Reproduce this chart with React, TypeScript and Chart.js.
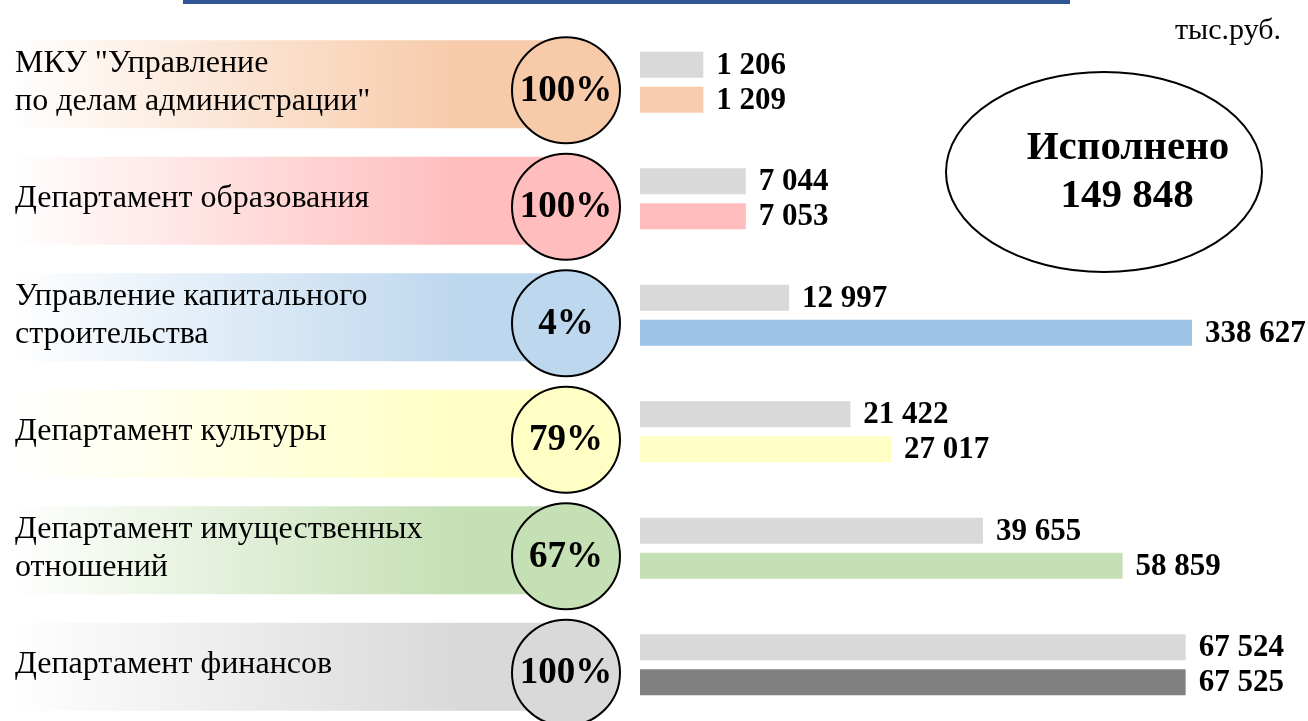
import { useEffect, useRef } from 'react';
import { Chart, registerables } from 'chart.js';

Chart.register(...registerables);

// ---------- data ----------
const categories: string[][] = [
  ['МКУ "Управление', 'по делам администрации"'],
  ['Департамент образования'],
  ['Управление капитального', 'строительства'],
  ['Департамент культуры'],
  ['Департамент имущественных', 'отношений'],
  ['Департамент финансов'],
];
const executed = [1206, 7044, 12997, 21422, 39655, 67524];
const planned = [1209, 7053, 338627, 27017, 58859, 67525];
const executedLabel = 'Исполнено';
const plannedLabel = 'План';
const unitLabel = 'тыс.руб.';
const totalTitle = 'Исполнено';

// ---------- styles ----------
const executedColor = '#d9d9d9';
const planColors = ['#f8cbad', '#ffbcbc', '#9dc3e6', '#ffffc5', '#c5e0b4', '#808080'];
const bandColors = ['#f7caa9', '#ffbdbd', '#bdd7ee', '#ffffc5', '#c5e0b4', '#d9d9d9'];
const SERIF = '"Liberation Serif", "Times New Roman", serif';
const X_MIN = -7500;
const X_MAX = 68400;

const fmt = (n: number) => String(n).replace(/\B(?=(\d{3})+(?!\d))/g, ' ');

const decor = {
  id: 'decor',
  beforeDraw(chart: any) {
    const ctx = chart.ctx as CanvasRenderingContext2D;
    const ys = chart.scales.y;
    ctx.save();
    ctx.fillStyle = '#2f5597';
    ctx.fillRect(183, 0, 887, 4);
    categories.forEach((_, i) => {
      const cy = ys.getPixelForValue(i) + 2;
      const g = ctx.createLinearGradient(10, 0, 460, 0);
      g.addColorStop(0, '#ffffff');
      g.addColorStop(1, bandColors[i]);
      ctx.fillStyle = g;
      ctx.fillRect(10, cy - 44, 556, 88);
    });
    ctx.restore();
  },
  afterDraw(chart: any) {
    const ctx = chart.ctx as CanvasRenderingContext2D;
    const ys = chart.scales.y;
    const area = chart.chartArea;
    ctx.save();
    // circles with percentages
    categories.forEach((_, i) => {
      const cy = ys.getPixelForValue(i) + 8;
      const cx = 566;
      ctx.beginPath();
      ctx.ellipse(cx, cy, 54, 53, 0, 0, Math.PI * 2);
      ctx.fillStyle = bandColors[i];
      ctx.fill();
      ctx.lineWidth = 2;
      ctx.strokeStyle = '#000';
      ctx.stroke();
      ctx.fillStyle = '#000';
      ctx.font = `bold 37px ${SERIF}`;
      ctx.textAlign = 'center';
      ctx.textBaseline = 'middle';
      const pct = Math.round((executed[i] / planned[i]) * 100);
      ctx.fillText(pct + '%', cx, cy + 1);
    });
    // value labels
    ctx.font = `bold 31px ${SERIF}`;
    ctx.textAlign = 'left';
    ctx.textBaseline = 'middle';
    ctx.fillStyle = '#000';
    chart.data.datasets.forEach((ds: any, d: number) => {
      const meta = chart.getDatasetMeta(d);
      meta.data.forEach((el: any, i: number) => {
        const x = Math.min(el.x, area.right) + 13;
        ctx.fillText(fmt(ds.data[i]), x, el.y + 1);
      });
    });
    // unit label
    ctx.font = `30px ${SERIF}`;
    ctx.textAlign = 'right';
    ctx.fillText(unitLabel, 1281, 31);
    // total ellipse
    ctx.beginPath();
    ctx.ellipse(1104, 172, 158, 100, 0, 0, Math.PI * 2);
    ctx.fillStyle = '#fff';
    ctx.fill();
    ctx.lineWidth = 2;
    ctx.strokeStyle = '#000';
    ctx.stroke();
    ctx.fillStyle = '#000';
    ctx.textAlign = 'center';
    ctx.font = `bold 41px ${SERIF}`;
    const total = executed.reduce((a, b) => a + b, 0);
    ctx.fillText(totalTitle, 1128, 148);
    ctx.fillText(fmt(total), 1127, 196);
    ctx.restore();
  },
};

export default function App() {
  const ref = useRef<HTMLCanvasElement>(null);
  useEffect(() => {
    document.body.style.margin = '0';
    const chart = new Chart(ref.current!, {
      type: 'bar',
      data: {
        labels: categories,
        datasets: [
          {
            label: executedLabel,
            data: executed,
            backgroundColor: executedColor,
            base: X_MIN,
            clip: 0,
          } as any,
          {
            label: plannedLabel,
            data: planned,
            backgroundColor: planColors,
            base: X_MIN,
            clip: 0,
          } as any,
        ],
      },
      options: {
        indexAxis: 'y',
        responsive: false,
        animation: false,
        layout: { padding: { left: 15, right: 116, top: 24, bottom: 1 } },
        datasets: { bar: { categoryPercentage: 0.6, barPercentage: 0.74 } },
        plugins: { legend: { display: false }, tooltip: { enabled: false }, title: { display: false } },
        scales: {
          x: { display: false, min: X_MIN, max: X_MAX },
          y: {
            grid: { display: false },
            border: { display: false },
            afterFit: (s: any) => {
              s.width = 625;
              s.paddingTop = 0;
              s.paddingBottom = 0;
            },
            ticks: {
              crossAlign: 'far',
              color: '#000',
              padding: 0,
              font: { family: SERIF, size: 32, lineHeight: 1.19 },
            },
          },
        },
      },
      plugins: [decor],
    });
    return () => chart.destroy();
  }, []);
  return (
    <div style={{ position: 'fixed', left: 0, top: 0, width: 1308, height: 724, background: '#fff' }}>
      <canvas ref={ref} width={1308} height={724} />
    </div>
  );
}
